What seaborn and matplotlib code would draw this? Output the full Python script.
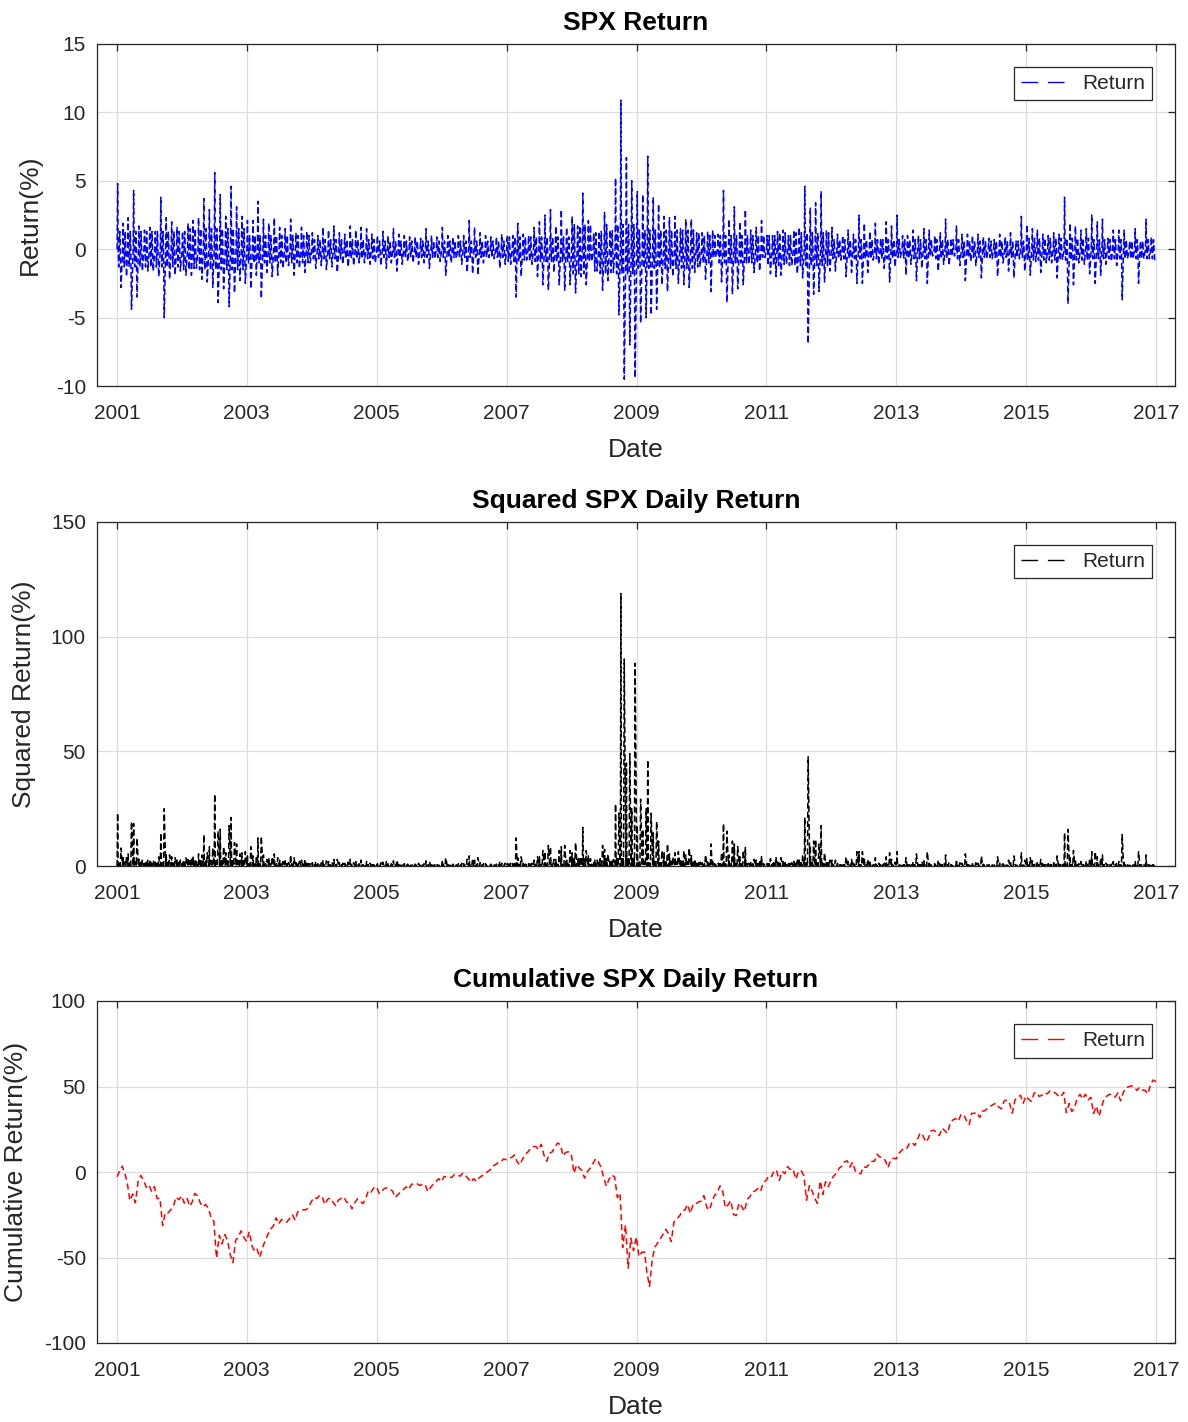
import numpy as np
import pandas as pd
import matplotlib
matplotlib.use("Agg")
import matplotlib.pyplot as plt
from matplotlib.lines import Line2D
import seaborn as sns

# ---------------- data ----------------
# Monthly extremes of the SPX daily log return (%), Jan 2001 ... Dec 2016
ret_hi = [
    4.8, 1.9, 2.3, 4.3, 1.7, 1.4, 1.6, 1.3, 3.8, 2.3, 2.0, 1.6,      # 2001
    1.3, 1.9, 2.1, 2.3, 3.7, 2.9, 5.6, 4.0, 2.4, 4.6, 3.1, 2.4,      # 2002
    2.1, 2.1, 3.5, 2.2, 1.9, 2.3, 1.6, 1.5, 2.2, 1.2, 1.6, 1.3,      # 2003
    1.2, 1.0, 1.6, 1.4, 1.7, 1.2, 1.1, 1.7, 1.4, 1.6, 1.5, 1.1,      # 2004
    1.0, 1.3, 1.0, 1.5, 1.1, 1.0, 0.9, 0.9, 0.8, 1.5, 1.0, 0.9,      # 2005
    1.6, 1.0, 0.9, 1.0, 1.0, 2.1, 1.6, 1.2, 1.0, 0.9, 0.9, 1.1,      # 2006
    1.0, 1.0, 1.9, 1.1, 1.0, 1.6, 2.0, 2.5, 2.9, 1.7, 2.9, 1.6,      # 2007
    2.4, 1.7, 4.1, 2.1, 1.2, 1.3, 2.7, 1.4, 5.2, 10.9, 6.7, 5.0,     # 2008
    4.2, 4.0, 6.8, 3.8, 3.3, 2.4, 2.3, 2.4, 1.5, 2.2, 2.2, 1.2,      # 2009
    1.2, 1.3, 1.4, 1.1, 4.3, 2.2, 3.1, 2.0, 2.9, 1.4, 1.6, 2.1,      # 2010
    1.0, 1.0, 1.3, 1.4, 1.0, 1.4, 1.6, 4.6, 3.0, 3.4, 4.2, 1.4,      # 2011
    1.6, 1.1, 1.0, 1.4, 1.1, 2.5, 1.9, 1.3, 1.9, 0.8, 2.0, 1.7,      # 2012
    2.5, 1.0, 1.0, 1.4, 1.0, 1.5, 1.4, 1.0, 1.2, 2.2, 0.8, 1.7,      # 2013
    1.1, 1.1, 1.0, 1.1, 0.9, 0.8, 0.7, 1.1, 0.9, 1.2, 0.6, 2.4,      # 2014
    1.8, 1.5, 1.4, 1.1, 1.0, 1.2, 1.1, 3.8, 1.9, 1.7, 1.4, 1.5,      # 2015
    2.5, 2.0, 2.2, 0.8, 1.4, 1.4, 1.4, 0.6, 1.5, 0.6, 2.2, 0.9,      # 2016
]
ret_lo = [
    -2.8, -2.0, -4.4, -3.5, -1.6, -1.6, -1.6, -2.0, -5.0, -2.2, -1.9, -1.6,  # 2001
    -1.9, -1.9, -1.4, -2.2, -2.4, -2.8, -3.9, -2.9, -4.2, -3.2, -2.3, -2.5,  # 2002
    -2.9, -1.9, -3.6, -1.7, -2.0, -1.9, -1.4, -1.2, -1.9, -1.4, -1.7, -1.0,  # 2003
    -1.4, -1.2, -1.5, -1.3, -1.7, -1.1, -1.3, -1.2, -1.0, -1.0, -1.1, -1.0,  # 2004
    -1.2, -1.4, -1.0, -1.6, -1.1, -0.9, -1.0, -1.1, -1.0, -1.4, -0.7, -0.9,  # 2005
    -1.9, -1.0, -0.7, -1.1, -1.7, -1.8, -1.9, -1.0, -0.6, -0.7, -1.4, -1.1,  # 2006
    -1.1, -3.5, -2.0, -0.8, -1.1, -2.0, -2.6, -3.0, -1.7, -2.6, -3.0, -2.6,  # 2007
    -3.2, -2.0, -2.6, -0.9, -1.6, -3.0, -2.3, -1.7, -4.8, -9.5, -7.0, -9.4,  # 2008
    -5.4, -5.0, -4.8, -4.4, -2.6, -3.1, -2.0, -2.5, -2.6, -2.8, -1.7, -1.3,  # 2009
    -2.2, -3.1, -0.6, -2.4, -3.9, -3.3, -2.9, -2.6, -1.1, -1.7, -1.6, -0.6,  # 2010
    -1.8, -2.0, -1.9, -1.1, -1.2, -1.8, -2.1, -6.9, -3.3, -3.1, -2.4, -1.6,  # 2011
    -1.6, -0.8, -2.0, -1.7, -2.5, -2.5, -1.7, -0.8, -1.1, -1.4, -2.4, -1.3,  # 2012
    -0.6, -1.9, -1.1, -2.3, -1.4, -2.5, -0.5, -1.6, -1.1, -1.2, -0.5, -1.2,  # 2013
    -2.3, -0.9, -1.2, -2.1, -0.7, -0.7, -2.0, -1.0, -1.6, -2.1, -0.7, -1.6,  # 2014
    -1.9, -0.9, -1.7, -1.0, -1.0, -2.1, -0.8, -4.0, -2.6, -1.0, -1.1, -1.8,  # 2015
    -2.5, -1.9, -1.1, -0.9, -1.2, -3.7, -0.7, -0.7, -2.5, -0.7, -0.7, -0.8,  # 2016
]
# half-width of the dense core of the return band, per year 2001 ... 2016
ret_core = [1.3, 1.5, 1.0, 0.7, 0.6, 0.6, 0.9, 1.8, 1.4, 1.0, 1.2, 0.7, 0.7, 0.6, 0.8, 0.7]
# daily returns cross zero between the extremes of each month
ret_cross = 0.0

# Cumulative log return (%): first day, then mid-month and month-end readings
cum_start = -2.8
cum_mid = [
    0.4, -1.0, -16.7, -18.0, -2.0, -8.9, -11.4, -15.6, -31.3, -24.0, -19.8, -16.2,   # 2001
    -18.2, -20.0, -12.5, -18.1, -19.0, -27.0, -50.4, -42.0, -40.0, -53.0, -38.0, -38.0,  # 2002
    -34.9, -46.4, -50.0, -40.0, -33.4, -26.8, -27.8, -29.3, -25.0, -23.3, -22.1, -20.6,  # 2003
    -14.8, -13.6, -19.0, -15.2, -19.7, -15.4, -17.6, -21.6, -15.7, -18.5, -10.9, -9.3,   # 2004
    -12.6, -9.5, -9.8, -14.9, -11.8, -8.7, -7.3, -6.8, -7.2, -11.5, -7.0, -3.9,          # 2005
    -2.6, -3.1, -1.3, -2.4, -2.0, -6.0, -5.5, -2.3, 0.1, 3.4, 5.6, 7.6,                  # 2006
    8.1, 10.0, 4.1, 10.1, 13.6, 14.9, 16.2, 6.3, 11.8, 17.0, 9.4, 11.8,                  # 2007
    -0.7, 2.2, -3.6, 2.2, 7.7, 3.0, -8.3, -1.7, -15.0, -44.2, -56.2, -46.0,              # 2008
    -49.5, -46.9, -66.9, -43.8, -39.1, -33.5, -40.7, -27.4, -22.7, -19.0, -18.8, -17.6,  # 2009
    -13.8, -22.3, -13.8, -8.1, -20.9, -16.7, -25.5, -20.2, -16.0, -11.6, -9.6, -6.2,     # 2010
    -2.1, 1.2, -4.9, -1.0, 1.5, -4.2, 1.0, -16.5, -11.0, -18.3, -13.1, -8.6,             # 2011
    -2.3, 2.3, 6.0, 2.9, 0.7, -1.0, 2.7, 6.2, 10.4, 8.7, 2.5, 8.0,                       # 2012
    10.9, 14.1, 16.7, 15.5, 22.9, 17.5, 24.1, 23.0, 25.6, 22.6, 30.4, 29.6,              # 2013
    33.5, 27.7, 34.3, 31.9, 35.9, 38.5, 40.3, 36.9, 42.1, 34.4, 43.5, 40.2,              # 2014
    42.5, 46.2, 44.2, 46.4, 47.5, 46.2, 43.8, 34.7, 35.4, 43.2, 42.7, 42.1,              # 2015
    34.2, 32.6, 42.9, 45.5, 43.8, 41.6, 49.3, 50.4, 47.7, 48.0, 45.7, 53.8,              # 2016
]
cum_end = [
    3.4, -6.3, -12.9, -5.5, -5.0, -7.5, -8.6, -15.3, -23.8, -22.0, -14.7, -14.0,         # 2001
    -15.5, -17.6, -14.0, -20.4, -21.3, -28.8, -37.0, -36.6, -48.2, -39.9, -34.4, -40.6,  # 2002
    -43.4, -45.1, -44.3, -36.5, -31.5, -30.4, -28.8, -27.0, -28.2, -22.8, -22.1, -17.2,  # 2003
    -15.5, -14.3, -15.9, -17.6, -16.4, -14.6, -18.1, -17.9, -16.9, -15.5, -11.8, -8.6,   # 2004
    -11.1, -9.3, -11.2, -13.2, -10.3, -10.3, -6.7, -7.9, -7.2, -9.0, -5.5, -5.6,         # 2005
    -3.1, -3.1, -1.9, -0.7, -3.9, -3.9, -3.4, -1.3, 1.2, 4.3, 5.9, 7.2,                  # 2006
    8.6, 6.4, 7.3, 11.6, 14.8, 13.0, 9.7, 11.0, 14.5, 16.0, 11.5, 10.6,                  # 2007
    4.3, 0.8, 0.2, 4.8, 5.9, -3.1, -4.1, -2.9, -12.4, -31.0, -38.7, -38.0,               # 2008
    -46.9, -58.6, -50.4, -41.4, -36.2, -36.2, -29.0, -25.7, -22.2, -24.2, -18.7, -16.9,  # 2009
    -20.7, -17.9, -12.1, -10.7, -19.2, -24.8, -18.1, -23.0, -14.6, -11.0, -11.2, -4.9,   # 2010
    -2.6, 0.5, 0.4, 3.2, 1.9, 0.0, -2.1, -8.0, -15.4, -5.2, -5.7, -4.9,                  # 2011
    -0.6, 3.4, 6.5, 5.7, -0.8, 3.1, 4.4, 6.3, 8.7, 6.7, 7.0, 7.7,                        # 2012
    12.6, 13.7, 17.3, 19.1, 21.1, 19.6, 24.4, 21.3, 24.2, 28.6, 31.3, 33.7,              # 2013
    30.0, 34.3, 34.9, 35.6, 37.6, 39.5, 38.0, 41.7, 40.1, 42.4, 44.9, 44.4,              # 2014
    41.3, 46.6, 44.9, 45.7, 46.8, 44.6, 46.6, 40.1, 37.5, 45.4, 45.5, 43.7,              # 2015
    38.5, 38.1, 44.5, 44.8, 46.3, 46.4, 49.9, 49.7, 49.6, 47.7, 51.0, 52.8,              # 2016
]

tick_years = [2001, 2003, 2005, 2007, 2009, 2011, 2013, 2015, 2017]
titles = ["SPX Return", "Squared SPX Daily Return", "Cumulative SPX Daily Return"]
ylabels = ["Return(%)", "Squared Return(%)", "Cumulative Return(%)"]
legend_label = "Return"

# ---------------- build tables ----------------
months = pd.date_range("2001-01-01", periods=len(ret_hi), freq="MS")
d = pd.Timedelta
ret_dates, ret_vals = [], []
for m, h, l in zip(months, ret_hi, ret_lo):
    c = ret_core[m.year - 2001]
    days = [1, 4, 7, 10, 13, 16, 19, 23]
    vals = [ret_cross, h, ret_cross, -min(c, -l), ret_cross, min(c, h), ret_cross, l]
    ret_dates += [m + d(days=k) for k in days]
    ret_vals += vals
ret_df = pd.DataFrame({"Date": ret_dates, "Return": ret_vals})
ret_df["Squared"] = ret_df["Return"] ** 2

cum_dates, cum_vals = [pd.Timestamp("2001-01-02")], [cum_start]
for m, a, b in zip(months, cum_mid, cum_end):
    cum_dates += [m + d(days=14), m + pd.offsets.MonthEnd(0)]
    cum_vals += [a, b]
cum_df = pd.DataFrame({"Date": cum_dates, "Cumulative": cum_vals})

# ---------------- style ----------------
sns.set_theme(style="white")
plt.rcParams["font.family"] = ["Liberation Sans", "DejaVu Sans"]
plt.rcParams["axes.unicode_minus"] = False

TXT = "#262626"
fig = plt.figure(figsize=(11.88, 14.22), dpi=100)
W, H = 1188.0, 1422.0
x0, x1 = 97, 1175
rects = [(44, 386), (522, 866), (1001, 1343)]
axes = [fig.add_axes([x0 / W, 1 - b / H, (x1 - x0) / W, (b - t) / H]) for t, b in rects]

xlim = (pd.Timestamp("2000-09-11"), pd.Timestamp("2017-04-17"))
yspecs = [((-10, 15), [-10, -5, 0, 5, 10, 15]),
          ((0, 150), [0, 50, 100, 150]),
          ((-100, 100), [-100, -50, 0, 50, 100])]
ylab_x = [-0.062, -0.068, -0.075]
dash = (0, (4, 2))

sns.lineplot(data=ret_df, x="Date", y="Return", ax=axes[0], color="#0000ff",
             lw=1.1, linestyle=dash, estimator=None, sort=False, legend=False)
sns.lineplot(data=ret_df, x="Date", y="Squared", ax=axes[1], color="#000000",
             lw=1.1, linestyle=dash, estimator=None, sort=False, legend=False)
sns.lineplot(data=cum_df, x="Date", y="Cumulative", ax=axes[2], color="#ff0000",
             lw=1.1, linestyle=(0, (4, 2.5)), estimator=None, sort=False, legend=False)

colors = ["#0000ff", "#000000", "#ff0000"]
for i, ax in enumerate(axes):
    ylim, yt = yspecs[i]
    ax.set_xlim(*xlim)
    ax.set_ylim(*ylim)
    ax.set_yticks(yt)
    ax.set_yticklabels([str(v) for v in yt])
    ax.set_xticks([pd.Timestamp(f"{y}-01-01") for y in tick_years])
    ax.set_xticklabels([str(y) for y in tick_years])
    ax.grid(True, color="#dcdcdc", linewidth=0.9)
    ax.set_axisbelow(True)
    ax.tick_params(direction="in", length=5, width=0.9, top=True, right=True,
                   labelsize=15, colors=TXT, labelcolor=TXT)
    ax.tick_params(axis="x", pad=13)
    ax.tick_params(axis="y", pad=8)
    for s in ax.spines.values():
        s.set_color(TXT)
        s.set_linewidth(0.9)
    ax.set_title(titles[i], fontsize=19, fontweight="bold", color="black", pad=10)
    ax.set_xlabel("Date", fontsize=19, color=TXT, va="center")
    ax.xaxis.set_label_coords(0.5, -0.186)
    ax.set_ylabel(ylabels[i], fontsize=19, color=TXT, va="center")
    ax.yaxis.set_label_coords(ylab_x[i], 0.5)
    handle = Line2D([], [], color=colors[i], lw=1.0, linestyle=(0, (12, 7)))
    leg = ax.legend([handle], [legend_label], loc="upper right", fontsize=15,
                    frameon=True, fancybox=False, framealpha=1, edgecolor=TXT,
                    borderaxespad=1.1, borderpad=0.35, handlelength=2.3,
                    handletextpad=0.6)
    leg.get_frame().set_linewidth(0.9)
    for t in leg.get_texts():
        t.set_color(TXT)

fig.savefig("out.png", dpi=100)
